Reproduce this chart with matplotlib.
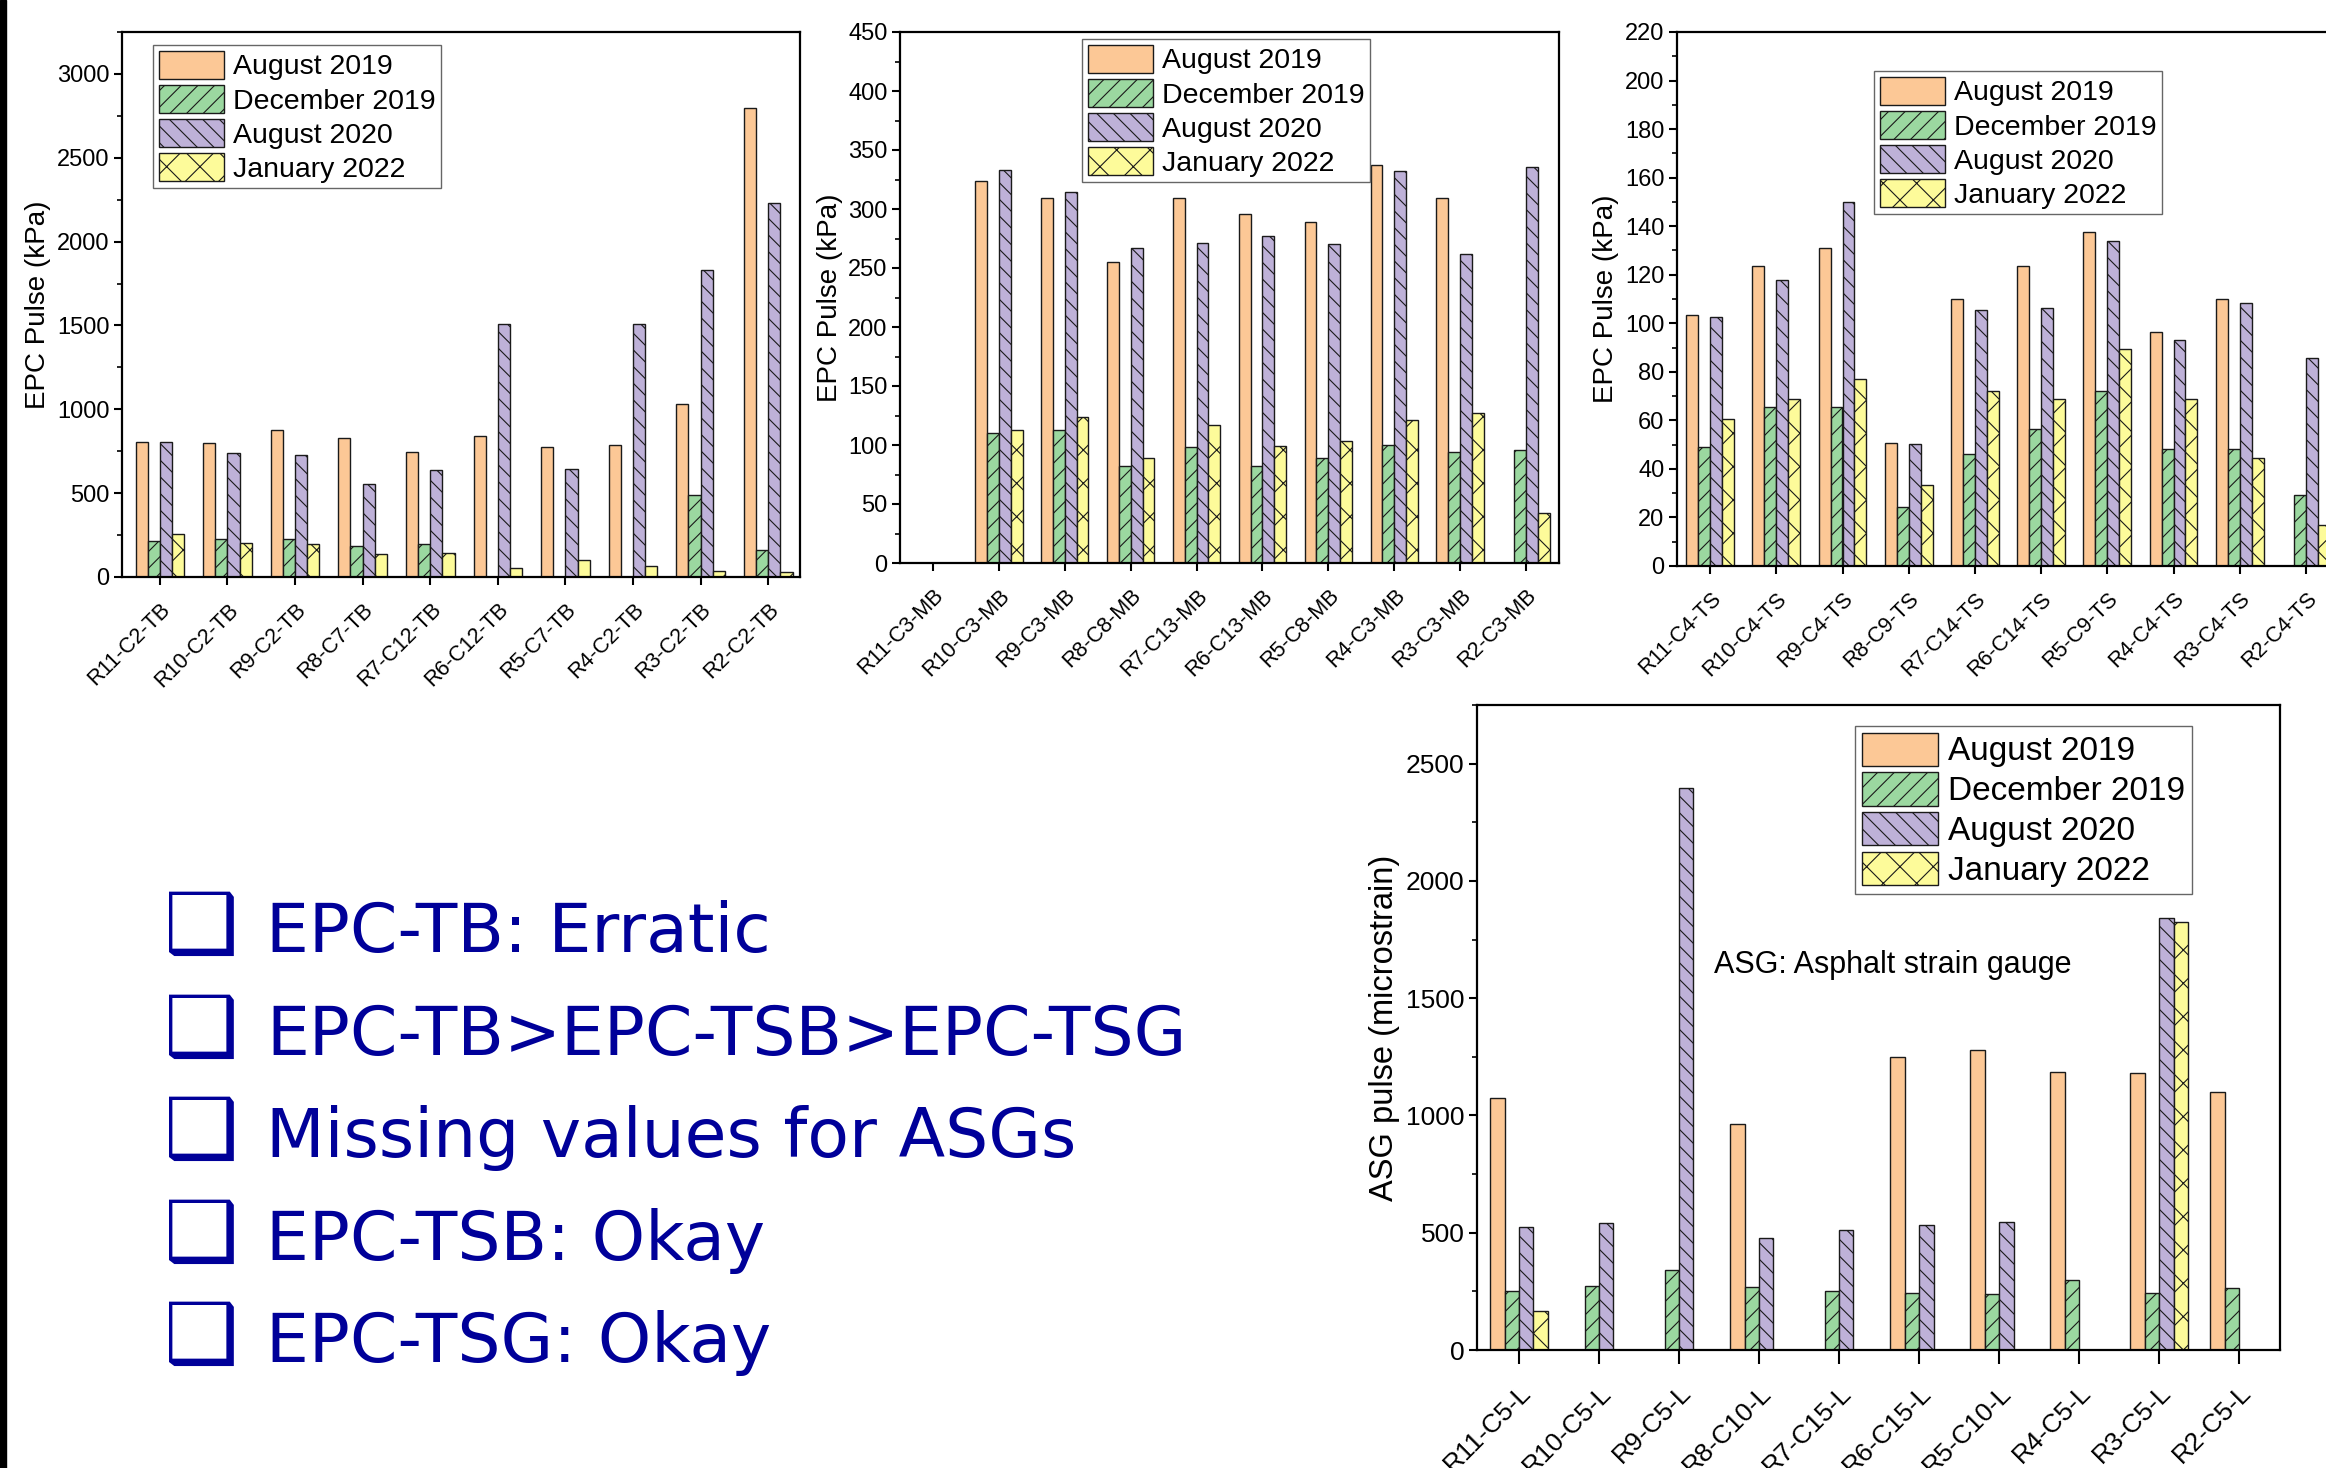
import numpy as np
import matplotlib
matplotlib.use("Agg")
import matplotlib.pyplot as plt
from matplotlib.patches import Rectangle
from matplotlib.ticker import MultipleLocator, NullLocator
from matplotlib.transforms import ScaledTranslation

nan = np.nan

seasons = ["August 2019", "December 2019", "August 2020", "January 2022"]
colors = ["#FCC896", "#9BD8A0", "#BEB1D8", "#FDFB9A"]
hatches = ["", "//", "\\\\", "x"]

# EPC-TB
tb_labels = ["R11-C2-TB", "R10-C2-TB", "R9-C2-TB", "R8-C7-TB", "R7-C12-TB",
             "R6-C12-TB", "R5-C7-TB", "R4-C2-TB", "R3-C2-TB", "R2-C2-TB"]
tb_aug19 = [807, 799, 876, 831, 745, 841, 777, 785, 1033, 2795]
tb_dec19 = [216, 226, 226, 184, 194, nan, nan, nan, 490, 162]
tb_aug20 = [807, 737, 727, 554, 636, 1507, 647, 1507, 1832, 2228]
tb_jan22 = [256, 200, 194, 136, 141, 56, 99, 67, 37, 27]

# EPC-MB
mb_labels = ["R11-C3-MB", "R10-C3-MB", "R9-C3-MB", "R8-C8-MB", "R7-C13-MB",
             "R6-C13-MB", "R5-C8-MB", "R4-C3-MB", "R3-C3-MB", "R2-C3-MB"]
mb_aug19 = [nan, 324, 309, 255, 309, 296, 289, 337, 309, nan]
mb_dec19 = [nan, 110, 113, 82, 98, 82, 89, 100, 94, 96]
mb_aug20 = [nan, 333, 314, 267, 271, 277, 270, 332, 262, 336]
mb_jan22 = [nan, 113, 124, 89, 117, 99, 103, 121, 127, 42]

# EPC-TS
ts_labels = ["R11-C4-TS", "R10-C4-TS", "R9-C4-TS", "R8-C9-TS", "R7-C14-TS",
             "R6-C14-TS", "R5-C9-TS", "R4-C4-TS", "R3-C4-TS", "R2-C4-TS"]
ts_aug19 = [103.3, 123.8, 130.9, 50.7, 110.1, 123.8, 137.6, 96.3, 110.1, nan]
ts_dec19 = [48.9, 65.4, 65.4, 24.2, 46.0, 56.5, 72.3, 48.2, 48.2, 29.1]
ts_aug20 = [102.5, 117.9, 150.1, 50.2, 105.3, 106.1, 133.7, 93.0, 108.4, 85.6]
ts_jan22 = [60.6, 68.7, 77.1, 33.5, 72.3, 68.7, 89.6, 68.9, 44.7, 16.9]

# ASG
asg_labels = ["R11-C5-L", "R10-C5-L", "R9-C5-L", "R8-C10-L", "R7-C15-L",
              "R6-C15-L", "R5-C10-L", "R4-C5-L", "R3-C5-L", "R2-C5-L"]
asg_aug19 = [1074, nan, nan, 964, nan, 1250, 1280, 1184, 1180, 1102]
asg_dec19 = [250, 275, 339, 267, 250, 242, 237, 297, 242, 263]
asg_aug20 = [523, 540, 2398, 479, 513, 532, 544, nan, 1841, nan]
asg_jan22 = [165, nan, nan, nan, nan, nan, nan, nan, 1824, nan]

bullets = ["EPC-TB: Erratic", "EPC-TB>EPC-TSB>EPC-TSG", "Missing values for ASGs",
           "EPC-TSB: Okay", "EPC-TSG: Okay"]

plt.rcParams["font.family"] = ["Liberation Sans", "DejaVu Sans"]
plt.rcParams["hatch.linewidth"] = 0.8

W, H = 2326, 1468
fig = plt.figure(figsize=(W / 100, H / 100), dpi=100)


def fig_box(left, top, right, bottom):
    return [left / W, 1 - bottom / H, (right - left) / W, (bottom - top) / H]


def grouped_bars(ax, series):
    x = np.arange(10)
    width = 0.18
    for i, vals in enumerate(series):
        ax.bar(x + (i - 1.5) * width, np.array(vals, dtype=float), width,
               color=colors[i], hatch=hatches[i], edgecolor="#1a1a1a",
               linewidth=1.0, label=seasons[i])


def style_axes(ax, labels, xlim, ylim, major, minor, ylabel, tick_fs, xtick_fs,
               label_fs, dx, pad):
    ax.set_xlim(xlim)
    ax.set_ylim(ylim)
    ax.set_xticks(np.arange(10))
    ax.set_xticklabels(labels, rotation=45, ha="right", rotation_mode="anchor",
                       fontsize=xtick_fs)
    ax.xaxis.set_minor_locator(NullLocator())
    ax.yaxis.set_major_locator(MultipleLocator(major))
    ax.yaxis.set_minor_locator(MultipleLocator(minor))
    ax.tick_params(axis="y", which="major", direction="out", length=6, width=1.5,
                   labelsize=tick_fs, pad=3)
    ax.tick_params(axis="y", which="minor", direction="out", length=3.5, width=1.2)
    ax.tick_params(axis="x", which="major", direction="out", length=6, width=1.5,
                   pad=pad)
    for s in ax.spines.values():
        s.set_linewidth(1.6)
    ax.set_ylabel(ylabel, fontsize=label_fs, labelpad=4)
    off = ScaledTranslation(dx / 100, 0, fig.dpi_scale_trans)
    for lab in ax.get_xticklabels():
        lab.set_transform(lab.get_transform() + off)


def add_legend(ax, left, top, fs):
    leg = ax.legend(loc="upper left", bbox_to_anchor=(left / W, 1 - top / H),
                    bbox_transform=fig.transFigure, fontsize=fs, frameon=True,
                    fancybox=False, framealpha=1, edgecolor="#666666",
                    borderpad=0.2, borderaxespad=0, labelspacing=0.15,
                    handlelength=2.3, handleheight=1.15, handletextpad=0.3)
    leg.get_frame().set_linewidth(1.0)


# EPC-TB chart
ax1 = fig.add_axes(fig_box(122, 32, 800, 577))
grouped_bars(ax1, [tb_aug19, tb_dec19, tb_aug20, tb_jan22])
style_axes(ax1, tb_labels, (-0.56, 9.47), (0, 3250), 500, 250, "EPC Pulse (kPa)",
           17, 15.5, 20, 0.14, 10)
add_legend(ax1, 153, 45, 20.5)

# EPC-MB chart
ax2 = fig.add_axes(fig_box(900, 32, 1559, 563))
grouped_bars(ax2, [mb_aug19, mb_dec19, mb_aug20, mb_jan22])
style_axes(ax2, mb_labels, (-0.5, 9.5), (0, 450), 50, 25, "EPC Pulse (kPa)",
           17, 15.5, 20, 0.14, 10)
add_legend(ax2, 1082, 39, 20.5)

# EPC-TS chart (runs past the right edge)
ax3 = fig.add_axes(fig_box(1677, 32, 2339, 566))
grouped_bars(ax3, [ts_aug19, ts_dec19, ts_aug20, ts_jan22])
style_axes(ax3, ts_labels, (-0.5, 9.5), (0, 220), 20, 10, "EPC Pulse (kPa)",
           17, 15.5, 20, 0.14, 10)
add_legend(ax3, 1874, 71, 20.5)

# ASG chart
ax4 = fig.add_axes(fig_box(1477, 705, 2280, 1350))
grouped_bars(ax4, [asg_aug19, asg_dec19, asg_aug20, asg_jan22])
style_axes(ax4, asg_labels, (-0.525, 9.51), (0, 2750), 500, 250,
           "ASG pulse (microstrain)", 19, 19, 23.5, 0.22, 12)
ax4.tick_params(axis="x", which="major", length=10)
add_legend(ax4, 1855, 726, 24)
ax4.text(0.295, 0.597, "ASG: Asphalt strain gauge", transform=ax4.transAxes,
         fontsize=22, va="center", ha="left")

# bullet list
for i, line in enumerate(bullets):
    y = 1 - (952 + i * 102.6) / H
    fig.text(164 / W, y, "\u2751", fontsize=60, color="#000099",
             family=["DejaVu Sans"], va="baseline", ha="left")
    fig.text(266 / W, y, line, fontsize=49, color="#000099",
             family=["DejaVu Sans"], va="baseline", ha="left")

# dark strip at the left edge of the slide
fig.add_artist(Rectangle((0, 0), 6 / W, 1, transform=fig.transFigure,
                         color="black", zorder=10))

fig.savefig("out.png", dpi=100)
